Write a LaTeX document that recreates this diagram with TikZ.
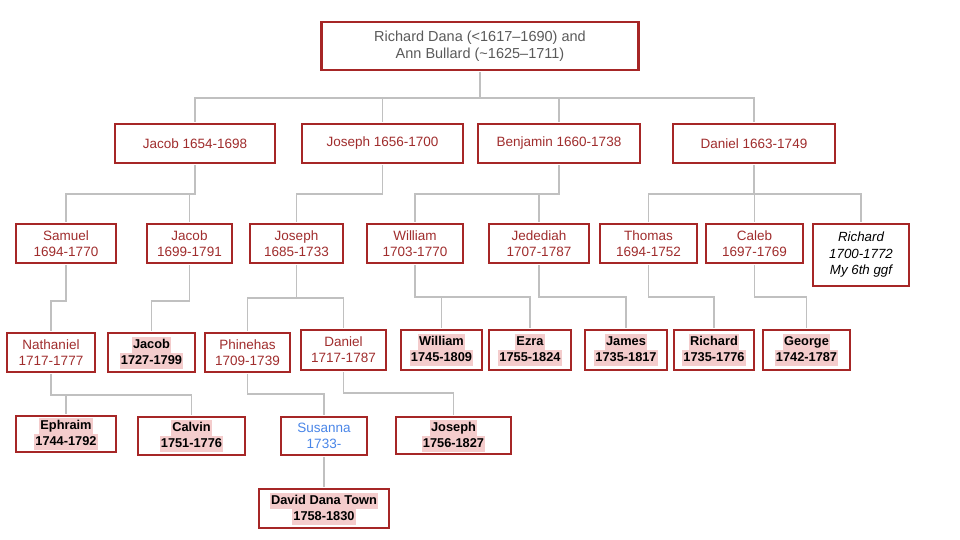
\documentclass[tikz,border=0pt]{standalone}
\usepackage{fontspec}
\setmainfont{Liberation Sans}
\usepackage{tikz}

\definecolor{boxred}{RGB}{166,38,38}
\definecolor{namered}{RGB}{160,45,45}
\definecolor{rootgray}{RGB}{90,90,90}
\definecolor{linegray}{RGB}{192,192,192}
\definecolor{susblue}{RGB}{74,134,232}
\definecolor{hlpink}{RGB}{244,204,204}

\newcommand{\pinkline}[1]{{\setlength{\fboxsep}{0pt}\colorbox{hlpink}{\kern1pt\rule[-4.5pt]{0pt}{16pt}#1\kern1pt}}}

\begin{document}
\begin{tikzpicture}[x=1pt,y=-1pt,
                famnode/.style={rectangle, draw=boxred, line width=2.2pt, fill=white, text=namered, align=center, inner sep=0pt, font=\fontsize{13.5}{16}\selectfont},
                famnodeb/.style={famnode, text=black, font=\fontsize{12.8}{16}\selectfont\bfseries},
                famnodei/.style={famnode, text=black, font=\fontsize{13.3}{16.5}\selectfont\itshape},
                famnodes/.style={famnode, text=susblue},
                rootnode/.style={famnode, text=rootgray, font=\fontsize{14.5}{17}\selectfont},
                famline/.style={draw=linegray, line width=1.8pt, shorten <=1.1pt, shorten >=1.1pt},
            ]
            \useasboundingbox (0,0) rectangle (960,540);

            %Nodes
            \node[rootnode, minimum width=317, minimum height=48] (root) at (480,46) {Richard Dana (<1617–1690) and\\Ann Bullard (\textasciitilde1625–1711)};

            \node[famnode, minimum width=160, minimum height=39] (jacobA)    at (195,143.5)   {Jacob 1654-1698};
            \node[famnode, minimum width=161, minimum height=39] (josephA)   at (382.5,143.5) {Joseph 1656-1700};
            \node[famnode, minimum width=162, minimum height=39] (benjaminA) at (559,143.5)   {Benjamin 1660-1738};
            \node[famnode, minimum width=162, minimum height=39] (danielA)   at (754,143.5)   {Daniel 1663-1749};

            \node[famnode, minimum width=100, minimum height=39] (samuel)    at (66,243.5)    {Samuel\\1694-1770};
            \node[famnode, minimum width=85, minimum height=39]  (jacobB)    at (189.5,243.5) {Jacob\\1699-1791};
            \node[famnode, minimum width=93, minimum height=39]  (josephB)   at (296.5,243.5) {Joseph\\1685-1733};
            \node[famnode, minimum width=96, minimum height=39]  (williamB)  at (415,243.5)   {William\\1703-1770};
            \node[famnode, minimum width=100, minimum height=39] (jedediah)  at (539,243.5)   {Jedediah\\1707-1787};
            \node[famnode, minimum width=97, minimum height=39]  (thomas)    at (648.5,243.5) {Thomas\\1694-1752};
            \node[famnode, minimum width=97, minimum height=39]  (caleb)     at (754.5,243.5) {Caleb\\1697-1769};
            \node[famnodei, minimum width=96, minimum height=62] (richardB)  at (861,255)     {Richard\\1700-1772\\My 6th ggf};

            \node[famnode, minimum width=88, minimum height=39]  (nathaniel) at (51,352.5)    {Nathaniel\\1717-1777};
            \node[famnodeb, minimum width=87, minimum height=39] (jacobC)    at (151.5,352.5) {\pinkline{Jacob}\\\pinkline{1727-1799}};
            \node[famnode, minimum width=85, minimum height=39]  (phinehas)  at (247.5,352.5) {Phinehas\\1709-1739};
            \node[famnode, minimum width=85, minimum height=40]  (danielC)   at (343.5,350)   {Daniel\\1717-1787};
            \node[famnodeb, minimum width=81, minimum height=40] (williamC)  at (441.5,350)   {\pinkline{William}\\\pinkline{1745-1809}};
            \node[famnodeb, minimum width=82, minimum height=40] (ezra)      at (530,350)     {\pinkline{Ezra}\\\pinkline{1755-1824}};
            \node[famnodeb, minimum width=82, minimum height=40] (james)     at (626,350)     {\pinkline{James}\\\pinkline{1735-1817}};
            \node[famnodeb, minimum width=80, minimum height=40] (richardC)  at (714,350)     {\pinkline{Richard}\\\pinkline{1735-1776}};
            \node[famnodeb, minimum width=87, minimum height=40] (george)    at (806.5,350)   {\pinkline{George}\\\pinkline{1742-1787}};

            \node[famnodeb, minimum width=100, minimum height=36] (ephraim)  at (66,434)      {\pinkline{Ephraim}\\\pinkline{1744-1792}};
            \node[famnodeb, minimum width=107, minimum height=38] (calvin)   at (191.5,436)   {\pinkline{Calvin}\\\pinkline{1751-1776}};
            \node[famnodes, minimum width=86, minimum height=38]  (susanna)  at (324,436)     {Susanna\\1733-};
            \node[famnodeb, minimum width=115, minimum height=37] (josephD)  at (453.5,435.5) {\pinkline{Joseph}\\\pinkline{1756-1827}};

            \node[famnodeb, minimum width=130, minimum height=39] (david)    at (324,508.5)   {\pinkline{David Dana Town}\\\pinkline{1758-1830}};

            %Lines
            \draw[famline] (root.south) -- ++(0,27) -| (jacobA.north);
            \draw[famline] (root.south) -- ++(0,27) -| (josephA.north);
            \draw[famline] (root.south) -- ++(0,27) -| (benjaminA.north);
            \draw[famline] (root.south) -- ++(0,27) -| (danielA.north);

            \draw[famline] (jacobA.south) -- ++(0,30) -| (samuel.north);
            \draw[famline] (jacobA.south) -- ++(0,30) -| (jacobB.north);
            \draw[famline] (josephA.south) -- ++(0,30) -| (josephB.north);
            \draw[famline] (benjaminA.south) -- ++(0,30) -| (williamB.north);
            \draw[famline] (benjaminA.south) -- ++(0,30) -| (jedediah.north);
            \draw[famline] (danielA.south) -- ++(0,30) -| (thomas.north);
            \draw[famline] (danielA.south) -- ++(0,30) -| (caleb.north);
            \draw[famline] (danielA.south) -- ++(0,30) -| (richardB.north);

            \draw[famline] (samuel.south) -- ++(0,37) -| (nathaniel.north);
            \draw[famline] (jacobB.south) -- ++(0,37) -| (jacobC.north);
            \draw[famline] (josephB.south) -- ++(0,34) -| (phinehas.north);
            \draw[famline] (josephB.south) -- ++(0,34) -| (danielC.north);
            \draw[famline] (williamB.south) -- ++(0,33) -| (williamC.north);
            \draw[famline] (williamB.south) -- ++(0,33) -| (ezra.north);
            \draw[famline] (jedediah.south) -- ++(0,33) -| (james.north);
            \draw[famline] (thomas.south) -- ++(0,33) -| (richardC.north);
            \draw[famline] (caleb.south) -- ++(0,33) -| (george.north);

            \draw[famline] (nathaniel.south) -- ++(0,22) -| (ephraim.north);
            \draw[famline] (nathaniel.south) -- ++(0,22) -| (calvin.north);
            \draw[famline] (phinehas.south) -- ++(0,21) -| (susanna.north);
            \draw[famline] (danielC.south) -- ++(0,22) -| (josephD.north);
            \draw[famline] (susanna.south) -- (david.north);
        \end{tikzpicture}
\end{document}
